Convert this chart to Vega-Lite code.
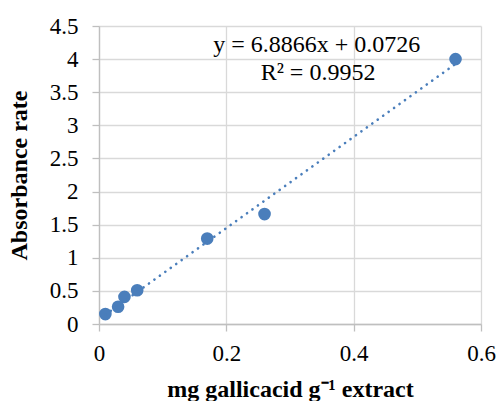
{
  "$schema": "https://vega.github.io/schema/vega-lite/v6.json",
  "width": 382,
  "height": 298,
  "autosize": {"type": "none"},
  "padding": {"left": 99, "top": 26, "right": 17, "bottom": 77},
  "background": "white",
  "config": {
    "view": {"stroke": null},
    "font": "Liberation Serif",
    "axis": {
      "labelFont": "Liberation Serif",
      "labelFontSize": 23,
      "labelFontWeight": "normal",
      "labelColor": "#000000",
      "labelOverlap": false,
      "titleFont": "Liberation Serif",
      "titleFontSize": 24,
      "titleFontWeight": "bold",
      "titleColor": "#000000",
      "gridColor": "#d9d9d9",
      "gridWidth": 1.3,
      "domainColor": "#bfbfbf",
      "domainWidth": 1.3,
      "tickColor": "#bfbfbf",
      "tickWidth": 1.3,
      "tickSize": 7
    }
  },
  "data": {
    "values": [
      {"x": 0.01, "y": 0.15},
      {"x": 0.03, "y": 0.26},
      {"x": 0.04, "y": 0.41},
      {"x": 0.06, "y": 0.51},
      {"x": 0.17, "y": 1.29},
      {"x": 0.26, "y": 1.66},
      {"x": 0.56, "y": 4.0}
    ]
  },
  "encoding": {
    "x": {
      "field": "x", "type": "quantitative",
      "scale": {"domain": [0, 0.6], "nice": false, "zero": true},
      "axis": {"values": [0, 0.2, 0.4, 0.6], "format": "~g", "title": "mg gallicacid g⁻¹ extract", "labelPadding": 11, "titlePadding": 12, "labelFlush": false}
    },
    "y": {
      "field": "y", "type": "quantitative",
      "scale": {"domain": [0, 4.5], "nice": false, "zero": true},
      "axis": {"values": [0, 0.5, 1, 1.5, 2, 2.5, 3, 3.5, 4, 4.5], "format": "~g", "title": "Absorbance rate", "labelPadding": 14, "titlePadding": 18, "labelFlush": false}
    }
  },
  "layer": [
    {
      "mark": {"type": "circle", "size": 160, "color": "#4a7ebb", "opacity": 1}
    },
    {
      "transform": [{"regression": "y", "on": "x", "extent": [0.01, 0.56]}],
      "mark": {"type": "line", "color": "#4a7ebb", "strokeWidth": 2.6, "strokeDash": [0.1, 6.6], "strokeCap": "round"}
    },
    {
      "mark": {"type": "text", "fontSize": 24, "font": "Liberation Serif", "fontWeight": "normal", "color": "#000000", "baseline": "alphabetic", "align": "center", "text": "y = 6.8866x + 0.0726"},
      "encoding": {
        "x": {"datum": 0.342, "type": "quantitative"},
        "y": {"datum": 4.11, "type": "quantitative"}
      },
      "transform": [{"filter": "datum.x == 0.56"}]
    },
    {
      "mark": {"type": "text", "fontSize": 24, "font": "Liberation Serif", "fontWeight": "normal", "color": "#000000", "baseline": "alphabetic", "align": "center", "text": "R² = 0.9952"},
      "encoding": {
        "x": {"datum": 0.344, "type": "quantitative"},
        "y": {"datum": 3.69, "type": "quantitative"}
      },
      "transform": [{"filter": "datum.x == 0.56"}]
    }
  ]
}
